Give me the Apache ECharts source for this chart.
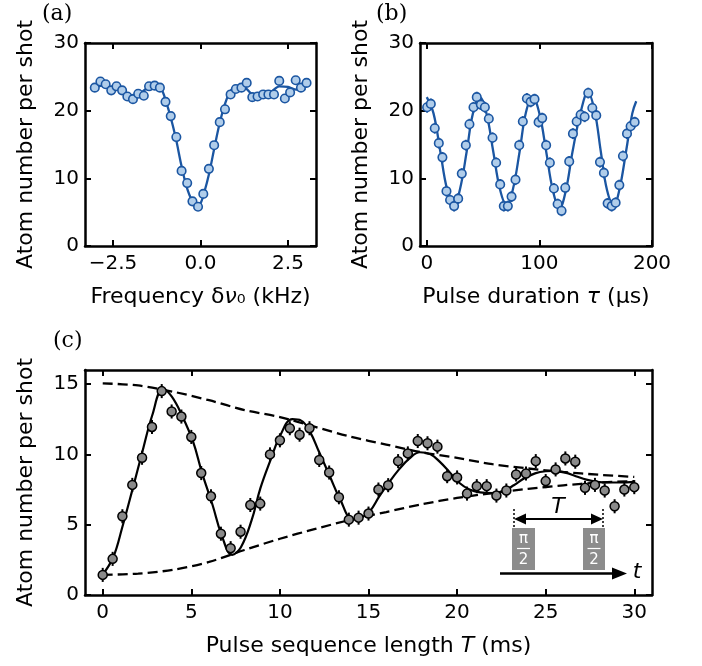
<!DOCTYPE html>
<html>
<head>
<meta charset="utf-8">
<script src="https://cdn.jsdelivr.net/npm/echarts@6/dist/echarts.min.js"></script>
<style>
  html, body { margin: 0; padding: 0; background: #fff; }
  #chart { width: 702px; height: 666px; }
</style>
</head>
<body>
<div id="chart"></div>
<script>
// (a) spectroscopy scan
const aFreq = [-3.02, -2.86, -2.71, -2.55, -2.40, -2.24, -2.09, -1.93, -1.78, -1.62,
  -1.47, -1.31, -1.16, -1.00, -0.85, -0.69, -0.54, -0.38, -0.23, -0.07,
  0.08, 0.24, 0.39, 0.55, 0.70, 0.86, 1.01, 1.17, 1.32, 1.48,
  1.63, 1.79, 1.94, 2.10, 2.25, 2.41, 2.56, 2.72, 2.87, 3.03];
const aAtoms = [23.4, 24.3, 23.9, 23.0, 23.6, 23.0, 22.1, 21.7, 22.5, 22.2,
  23.6, 23.7, 23.4, 21.3, 19.2, 16.1, 11.1, 9.3, 6.6, 5.8,
  7.7, 11.4, 14.9, 18.3, 20.2, 22.4, 23.2, 23.4, 24.1, 22.0,
  22.1, 22.4, 22.4, 22.4, 24.4, 21.8, 22.7, 24.5, 23.4, 24.1];
const aFitX = [-3.0, -2.75, -2.5, -2.25, -2.0, -1.75, -1.5, -1.25, -1.1, -1.0, -0.85, -0.7, -0.55,
  -0.4, -0.25, -0.1, 0.0, 0.1, 0.25, 0.4, 0.55, 0.7, 0.85, 1.0, 1.15, 1.3, 1.45, 1.6, 1.8, 2.0,
  2.25, 2.5, 2.75, 3.0];
const aFitY = [23.5, 23.7, 23.4, 23.0, 22.3, 22.5, 23.4, 23.6, 23.0, 21.6, 19.0, 15.8, 12.0,
  8.8, 6.8, 6.0, 6.3, 7.8, 10.8, 14.6, 18.2, 21.0, 22.9, 23.5, 23.6, 23.3, 22.5, 22.2, 22.4, 22.7,
  23.6, 23.5, 23.1, 23.2];

// (b) Rabi oscillation
const bTau = [0.3, 3.6, 7.1, 10.7, 13.9, 17.5, 20.7, 24.3, 27.9, 31.1,
  34.7, 37.9, 41.5, 44.4, 48.0, 51.6, 55.1, 58.4, 61.6, 65.2,
  68.4, 72.0, 75.3, 78.8, 82.1, 85.3, 88.9, 92.2, 95.7, 99.3,
  102.5, 106.0, 109.3, 112.9, 116.2, 119.7, 123.0, 126.5, 129.8, 133.1,
  136.6, 140.2, 143.4, 147.0, 150.5, 153.8, 157.3, 160.6, 164.2, 167.7,
  171.0, 174.2, 177.8, 181.0, 184.6];
const bAtoms = [20.5, 21.0, 17.4, 15.2, 13.1, 8.1, 6.8, 5.9, 7.0, 10.7,
  14.9, 18.0, 20.5, 22.0, 20.9, 20.5, 18.8, 16.0, 12.3, 9.1,
  5.9, 5.9, 7.3, 9.8, 14.9, 18.4, 21.8, 21.3, 21.7, 18.3,
  18.9, 14.9, 12.3, 8.5, 6.2, 5.2, 8.6, 12.5, 16.6, 18.4,
  19.4, 19.1, 22.6, 20.4, 19.3, 12.4, 10.8, 6.3, 5.9, 6.4,
  9.0, 13.3, 16.6, 17.7, 18.3];
const bErr = 0.8;
const bFitX = [0, 6, 12, 18, 24, 29.5, 35.5, 41, 47, 53, 59, 65, 71, 76.5, 82.5, 88, 94,
  100, 106, 112, 118, 123.5, 129.5, 137, 143, 149, 154.5, 160, 166, 171, 177, 182.5, 186];
const bFitY = [22.0, 19.6, 14.0, 8.4, 6.0, 8.4, 14.0, 19.6, 22.0, 19.6, 14.0, 8.4, 6.0, 8.4, 14.0, 19.7, 22.0,
  19.6, 14.0, 8.2, 5.6, 8.2, 14.0, 20.0, 22.7, 20.0, 14.0, 8.3, 6.0, 8.3, 14.0, 19.6, 21.4];

// (c) Ramsey sequence
const cT = [0, 0.56, 1.11, 1.67, 2.22, 2.78, 3.33, 3.89, 4.44, 5.0,
  5.56, 6.11, 6.67, 7.22, 7.78, 8.33, 8.89, 9.44, 10.0, 10.56,
  11.11, 11.67, 12.22, 12.78, 13.33, 13.89, 14.44, 15.0, 15.56, 16.11,
  16.67, 17.22, 17.78, 18.33, 18.89, 19.44, 20.0, 20.56, 21.11, 21.67,
  22.22, 22.78, 23.33, 23.89, 24.44, 25.0, 25.56, 26.11, 26.67, 27.22,
  27.78, 28.33, 28.89, 29.44, 30.0];
const cAtoms = [1.43, 2.57, 5.6, 7.83, 9.76, 11.95, 14.5, 13.05, 12.69, 11.24,
  8.67, 7.02, 4.36, 3.33, 4.5, 6.4, 6.5, 10.0, 11.0, 11.86,
  11.4, 11.86, 9.6, 8.71, 6.95, 5.36, 5.5, 5.79, 7.5, 7.81,
  9.52, 10.07, 10.95, 10.79, 10.55, 8.45, 8.36, 7.21, 7.74, 7.74,
  7.07, 7.43, 8.57, 8.64, 9.52, 8.1, 8.93, 9.71, 9.48, 7.62,
  7.83, 7.43, 6.31, 7.5, 7.67];
const cErr = 0.5;
const cFitX = [0, 0.6, 1.1, 1.7, 2.2, 2.8, 3.4, 3.9, 4.5, 5.1, 5.6, 6.2, 6.7, 7.3, 7.8, 8.4, 8.9,
  9.5, 10.0, 10.7, 11.2, 11.7, 12.2, 12.8, 13.4, 14.1, 14.6, 15.1, 15.6, 16.1, 16.7, 17.3, 17.9,
  18.5, 19.0, 19.6, 20.1, 20.7, 21.3, 22.0, 22.6, 23.2, 23.8, 24.4, 25.0, 25.4, 26.1, 26.7, 27.3,
  27.9, 28.5, 29.2, 30.0];
const cFitY = [1.45, 2.7, 4.8, 7.6, 10.0, 12.8, 14.65, 14.1, 12.7, 10.9, 8.7, 6.4, 4.3, 2.86, 3.4, 5.3, 7.6,
  9.7, 11.3, 12.5, 12.4, 11.6, 10.2, 8.5, 6.8, 5.4, 5.5, 6.0, 7.0, 7.9, 8.9, 9.7, 10.15,
  10.0, 9.5, 8.7, 8.0, 7.5, 7.3, 7.25, 7.4, 7.8, 8.3, 8.65, 8.8, 8.82, 8.7, 8.45, 8.2,
  8.05, 8.0, 8.0, 8.05];
const cEnvX = [0, 2, 4, 6, 8, 10, 12, 14, 16, 18, 20, 22, 24, 26, 28, 30];
const cUpY = [15.05, 14.9, 14.45, 13.85, 13.15, 12.65, 11.95, 11.25, 10.7, 10.15, 9.75, 9.3, 9.0, 8.75, 8.55, 8.4];
const cLoY = [1.43, 1.52, 1.8, 2.35, 3.2, 4.0, 4.7, 5.35, 5.9, 6.45, 6.9, 7.25, 7.55, 7.8, 8.0, 8.1];

// tick labels
const aTicksX = [-2.5, 0, 2.5];
const bTicksX = [0, 100, 200];
const abTicksY = [0, 10, 20, 30];
const cTicksX = [0, 5, 10, 15, 20, 25, 30];
const cTicksY = [0, 5, 10, 15];

const FONT = 'DejaVu Sans';
const BLUE = '#1b56a2';
const BLUE_FILL = '#b0cdea';

const zip = (xs, ys) => xs.map((x, i) => [x, ys[i]]);
const withErr = (xs, ys, e) => xs.map((x, i) => [x, ys[i], e]);

function xAxisPair(grid, min, max, ticks, name, fmt) {
  const base = {
    type: 'value', gridIndex: grid, min: min, max: max,
    splitLine: { show: false },
    axisLine: { onZero: false, lineStyle: { color: '#000', width: 2.5 } },
    axisTick: { inside: true, length: 6, lineStyle: { color: '#000', width: 2 }, customValues: ticks }
  };
  return [
    Object.assign({}, base, {
      position: 'bottom',
      name: name, nameLocation: 'middle', nameGap: 40,
      nameTextStyle: { fontSize: 22, color: '#000', fontFamily: FONT,
        rich: { i: { fontSize: 22, fontStyle: 'italic', fontFamily: FONT, color: '#000' } } },
      axisLabel: { customValues: ticks, fontSize: 20, color: '#000', fontFamily: FONT, margin: 8,
        formatter: fmt || (v => String(v)) }
    }),
    Object.assign({}, base, { position: 'top', axisLabel: { show: false } })
  ];
}

function yAxisPair(grid, min, max, ticks) {
  const base = {
    type: 'value', gridIndex: grid, min: min, max: max,
    splitLine: { show: false },
    axisLine: { onZero: false, lineStyle: { color: '#000', width: 2.5 } },
    axisTick: { inside: true, length: 6, lineStyle: { color: '#000', width: 2 }, customValues: ticks }
  };
  return [
    Object.assign({}, base, {
      position: 'left',
      name: 'Atom number per shot', nameLocation: 'middle', nameGap: 48,
      nameTextStyle: { fontSize: 22, color: '#000', fontFamily: FONT },
      axisLabel: { customValues: ticks, fontSize: 20, color: '#000', fontFamily: FONT, margin: 6 }
    }),
    Object.assign({}, base, { position: 'right', axisLabel: { show: false } })
  ];
}

function errorBars(xi, yi, data, color) {
  return {
    type: 'custom', xAxisIndex: xi, yAxisIndex: yi, data: data, encode: { x: 0, y: 1 }, z: 3,
    renderItem: (params, api) => {
      const x = api.value(0), y = api.value(1), e = api.value(2);
      const p1 = api.coord([x, y - e]);
      const p2 = api.coord([x, y + e]);
      return { type: 'line', shape: { x1: p1[0], y1: p1[1], x2: p2[0], y2: p2[1] },
        style: { stroke: color, lineWidth: 2 } };
    }
  };
}

const fmtA = v => (v < 0 ? '\u2212' : '') + Math.abs(v).toFixed(1);
const dashed = { color: '#000', width: 2.3, type: [10, 5] };

const chart = echarts.init(document.getElementById('chart'));
chart.setOption({
  animation: false,
  backgroundColor: '#fff',
  grid: [
    { left: 85, top: 43, width: 231, height: 203 },
    { left: 420, top: 43, width: 232, height: 203 },
    { left: 85, top: 370, width: 567, height: 225 }
  ],
  xAxis: [
    ...xAxisPair(0, -3.3, 3.3, aTicksX, 'Frequency δ{i|ν}\u2080 (kHz)', fmtA),
    ...xAxisPair(1, -6, 200, bTicksX, 'Pulse duration {i|τ} (μs)'),
    ...xAxisPair(2, -1, 31, cTicksX, 'Pulse sequence length {i|T} (ms)')
  ],
  yAxis: [
    ...yAxisPair(0, 0, 30, abTicksY),
    ...yAxisPair(1, 0, 30, abTicksY),
    ...yAxisPair(2, 0, 16, cTicksY)
  ],
  series: [
    // (a)
    { type: 'line', xAxisIndex: 0, yAxisIndex: 0, data: zip(aFitX, aFitY), smooth: 0.3,
      showSymbol: false, lineStyle: { color: BLUE, width: 2.3 }, z: 2 },
    { type: 'scatter', xAxisIndex: 0, yAxisIndex: 0, data: zip(aFreq, aAtoms), symbolSize: 8.5,
      itemStyle: { color: BLUE_FILL, borderColor: BLUE, borderWidth: 1.6, opacity: 1 }, z: 4 },
    // (b)
    { type: 'line', xAxisIndex: 2, yAxisIndex: 2, data: zip(bFitX, bFitY), smooth: 0.4,
      showSymbol: false, lineStyle: { color: BLUE, width: 2.3 }, z: 2 },
    errorBars(2, 2, withErr(bTau, bAtoms, bErr), BLUE),
    { type: 'scatter', xAxisIndex: 2, yAxisIndex: 2, data: zip(bTau, bAtoms), symbolSize: 8.5,
      itemStyle: { color: BLUE_FILL, borderColor: BLUE, borderWidth: 1.6, opacity: 1 }, z: 4 },
    // (c)
    { type: 'line', xAxisIndex: 4, yAxisIndex: 4, data: zip(cEnvX, cUpY), smooth: 0.3,
      showSymbol: false, lineStyle: dashed, z: 2 },
    { type: 'line', xAxisIndex: 4, yAxisIndex: 4, data: zip(cEnvX, cLoY), smooth: 0.3,
      showSymbol: false, lineStyle: dashed, z: 2 },
    { type: 'line', xAxisIndex: 4, yAxisIndex: 4, data: zip(cFitX, cFitY), smooth: 0.4,
      showSymbol: false, lineStyle: { color: '#000', width: 2.2 }, z: 2 },
    errorBars(4, 4, withErr(cT, cAtoms, cErr), '#000'),
    { type: 'scatter', xAxisIndex: 4, yAxisIndex: 4, data: zip(cT, cAtoms), symbolSize: 9,
      itemStyle: { color: '#8a8a8a', borderColor: '#000', borderWidth: 1.5, opacity: 1 }, z: 4 }
  ],
  graphic: [
    { type: 'text', x: 42, y: 3, style: { text: '(a)', fontSize: 22, fontFamily: 'DejaVu Serif', fill: '#000' } },
    { type: 'text', x: 376, y: 3, style: { text: '(b)', fontSize: 22, fontFamily: 'DejaVu Serif', fill: '#000' } },
    { type: 'text', x: 53, y: 330, style: { text: '(c)', fontSize: 22, fontFamily: 'DejaVu Serif', fill: '#000' } },
    // inset: pi/2 pulses separated by T
    { type: 'rect', shape: { x: 512, y: 528, width: 23, height: 42 }, style: { fill: '#8c8c8c' }, z: 10 },
    { type: 'rect', shape: { x: 583, y: 528, width: 22, height: 42 }, style: { fill: '#8c8c8c' }, z: 10 },
    { type: 'text', x: 523.5, y: 539, z: 11, style: { text: 'π', fontSize: 15, fontFamily: FONT, fill: '#fff', align: 'center', verticalAlign: 'middle' } },
    { type: 'text', x: 523.5, y: 560, z: 11, style: { text: '2', fontSize: 15, fontFamily: FONT, fill: '#fff', align: 'center', verticalAlign: 'middle' } },
    { type: 'line', z: 11, shape: { x1: 517, y1: 548.5, x2: 530, y2: 548.5 }, style: { stroke: '#fff', lineWidth: 1.2 } },
    { type: 'text', x: 594, y: 539, z: 11, style: { text: 'π', fontSize: 15, fontFamily: FONT, fill: '#fff', align: 'center', verticalAlign: 'middle' } },
    { type: 'text', x: 594, y: 560, z: 11, style: { text: '2', fontSize: 15, fontFamily: FONT, fill: '#fff', align: 'center', verticalAlign: 'middle' } },
    { type: 'line', z: 11, shape: { x1: 587.5, y1: 548.5, x2: 600.5, y2: 548.5 }, style: { stroke: '#fff', lineWidth: 1.2 } },
    { type: 'line', z: 10, shape: { x1: 514, y1: 509, x2: 514, y2: 528 }, style: { stroke: '#000', lineWidth: 1.5, lineDash: [2, 2] } },
    { type: 'line', z: 10, shape: { x1: 603, y1: 509, x2: 603, y2: 528 }, style: { stroke: '#000', lineWidth: 1.5, lineDash: [2, 2] } },
    { type: 'line', z: 10, shape: { x1: 522, y1: 519, x2: 595, y2: 519 }, style: { stroke: '#000', lineWidth: 2 } },
    { type: 'polygon', z: 10, shape: { points: [[514, 519], [526, 513.5], [526, 524.5]] }, style: { fill: '#000' } },
    { type: 'polygon', z: 10, shape: { points: [[603, 519], [591, 513.5], [591, 524.5]] }, style: { fill: '#000' } },
    { type: 'text', x: 558, y: 507, z: 10, style: { text: 'T', fontSize: 22, fontStyle: 'italic', fontFamily: FONT, fill: '#000', align: 'center', verticalAlign: 'middle' } },
    { type: 'line', z: 10, shape: { x1: 500, y1: 573.5, x2: 616, y2: 573.5 }, style: { stroke: '#000', lineWidth: 2.5 } },
    { type: 'polygon', z: 10, shape: { points: [[627, 573.5], [612, 567.5], [612, 579.5]] }, style: { fill: '#000' } },
    { type: 'text', x: 637, y: 572, z: 10, style: { text: 't', fontSize: 22, fontStyle: 'italic', fontFamily: FONT, fill: '#000', align: 'center', verticalAlign: 'middle' } }
  ]
});
</script>
</body>
</html>
